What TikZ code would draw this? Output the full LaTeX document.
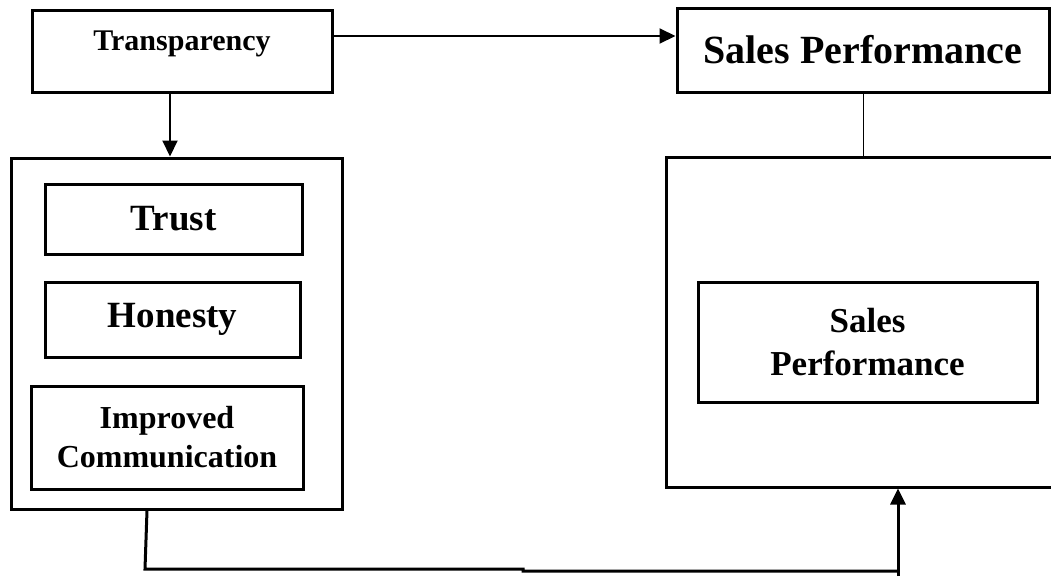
\documentclass[tikz,border=0pt]{standalone}
\usepackage{fontspec}
\setmainfont{Liberation Serif}
\usetikzlibrary{arrows.meta}
\begin{document}
\begin{tikzpicture}[x=1pt,y=-1pt,
  box/.style={draw, line width=3pt, inner sep=0pt, align=center},
  link/.style={line width=2pt},
  arr/.style={line width=2pt, -{Triangle[length=16pt,width=15pt]}},
]
\useasboundingbox (0,0) rectangle (1051,576);
\clip (0,0) rectangle (1051,576);

% top row
\node[box, minimum width=300, minimum height=82, text depth=20pt,
      font=\bfseries\fontsize{30}{36}\selectfont] (trans) at (182,51) {Transparency};
\node[box, minimum width=372, minimum height=84,
      font=\bfseries\fontsize{40}{48}\selectfont] (salestop) at (863,50) {Sales Performance};

% containers
\node[box, minimum width=331, minimum height=351] (leftbox) at (176.5,333.5) {};
\node[box, minimum width=400, minimum height=330] (rightbox) at (866,322) {};

% left column items
\node[box, minimum width=257, minimum height=70,
      font=\bfseries\fontsize{37}{44}\selectfont] (trust) at (173.5,219) {Trust};
\node[box, minimum width=255, minimum height=75,
      font=\bfseries\fontsize{37}{44}\selectfont] (honesty) at (172.5,319.5) {Honesty};
\node[box, minimum width=272, minimum height=103,
      font=\bfseries\fontsize{32}{39}\selectfont] (comm) at (167,437.5) {Improved\\Communication};

% right column item
\node[box, minimum width=339, minimum height=120,
      font=\bfseries\fontsize{35}{43}\selectfont] (salesin) at (867.5,342) {Sales\\Performance};

% connectors
\coordinate (toplevel) at (0,36);
\draw[arr] (trans.east |- toplevel) -- (salestop.west |- toplevel);

\coordinate (downx) at (170,0);
\draw[arr] (downx |- trans.south) -- (downx |- leftbox.north);

\draw[line width=1pt] (salestop.south) -- (salestop.south |- rightbox.north);

\coordinate (c0) at (147,0);
\coordinate (c1) at (145,569);
\coordinate (c2) at (523,569);
\coordinate (c3) at (523,571);
\coordinate (c4) at (898,571);
\coordinate (c5) at (898,576);
\draw[link, line width=3pt] (leftbox.south -| c0) -- (c1) -- (c2) -- (c3) -- (c4);
\draw[arr, line width=3pt] (c5) -- (c5 |- rightbox.south);
\end{tikzpicture}
\end{document}
